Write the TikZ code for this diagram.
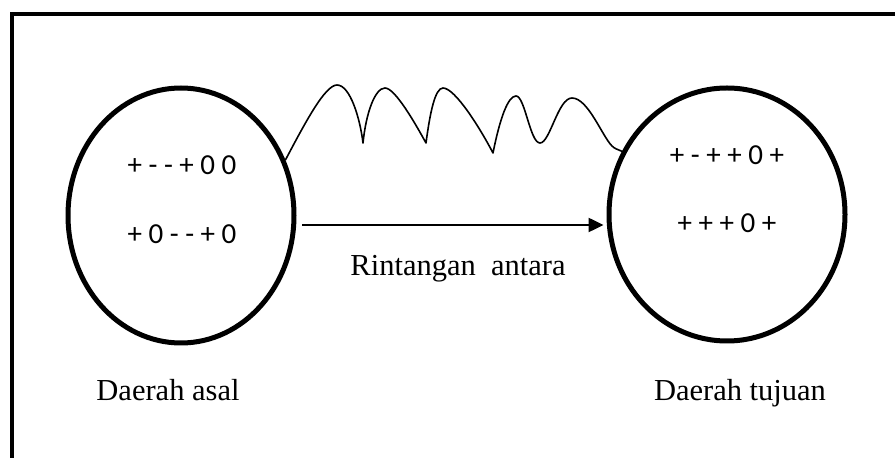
\documentclass[tikz,border=0pt]{standalone}
\usepackage{fontspec}
\setmainfont{Liberation Serif}
\newfontfamily\calib{Carlito}
\usetikzlibrary{shapes.geometric,arrows.meta}
\tikzset{
  region/.style={ellipse, draw, line width=5pt, inner sep=0pt},
  signs/.style={anchor=base, inner sep=0pt, font=\calib\fontsize{29}{32}\selectfont},
  lbl/.style={anchor=base, inner sep=0pt, font=\fontsize{30.5}{34}\selectfont},
  arr/.style={line width=2.5pt, -{Triangle[length=15pt,width=14pt]}},
  wave/.style={line width=1.6pt, line join=round}
}
\begin{document}
\begin{tikzpicture}[x=1pt,y=1pt]
\useasboundingbox (0,0) rectangle (895,458);
\clip (0,0) rectangle (895,458);
\draw[line width=4.5pt] (12,-20) rectangle (920,444);
% regions
\node[region, minimum width=226pt, minimum height=255pt] (L) at (181,242.5) {};
\node[region, minimum width=236pt, minimum height=253pt] (R) at (727,243.5) {};
% signs
\node[signs] (l1) at (182,283) {+ - - + 0 0};
\node[signs] (l2) at (182,214) {+ 0 - - + 0};
\node[signs] (r1) at (727,293) {+ - + + 0 +};
\node[signs] (r2) at (727,225) {+ + + 0 +};
% arrow
\coordinate (ay) at (0,233);
\draw[arr, shorten <=5.5pt, shorten >=3pt] (L.east |- ay) -- (R.west |- ay);
% wave
\draw[wave] (L.28)
  .. controls (305,335) and (325,373) .. (337,373)
  .. controls (350,373) and (360,340) .. (363,315)
  .. controls (366,345) and (375,370) .. (385,370)
  .. controls (395,370) and (415,335) .. (426,315)
  .. controls (430,345) and (435,370) .. (443,370)
  .. controls (455,370) and (480,330) .. (493,305)
  .. controls (500,340) and (508,362) .. (516,362)
  .. controls (525,362) and (530,315) .. (540,315)
  .. controls (550,315) and (558,360) .. (572,360)
  .. controls (588,360) and (602,322) .. (612,312)
  .. controls (615,309) and (617,309) .. (R.149);
% labels
\node[lbl] (t1) at (458,182) {Rintangan\ \ antara};
\node[lbl] (t2) at (168,57) {Daerah asal};
\node[lbl] (t3) at (740,57) {Daerah tujuan};
\end{tikzpicture}
\end{document}
